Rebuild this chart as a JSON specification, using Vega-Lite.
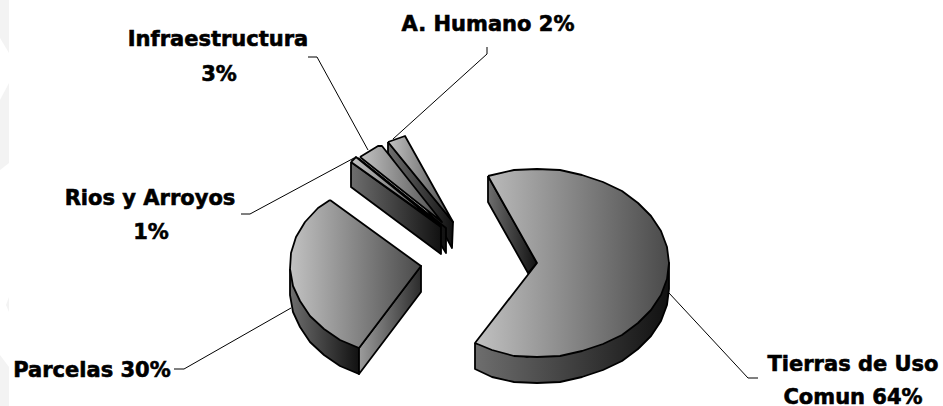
{"$schema":"https://vega.github.io/schema/vega-lite/v6.json","width":943,"height":406,"padding":0,"autosize":"none","background":"white","config":{"view":{"stroke":null}},
"datasets":{
"ghost":[{"s":"g1","i":1,"x":0,"y":0},{"s":"g1","i":2,"x":9,"y":0},{"s":"g1","i":3,"x":9,"y":53},{"s":"g1","i":4,"x":0,"y":38},{"s":"g2","i":1,"x":0,"y":100},{"s":"g2","i":2,"x":9,"y":83},{"s":"g2","i":3,"x":9,"y":163},{"s":"g2","i":4,"x":0,"y":170},{"s":"g3","i":1,"x":9,"y":297},{"s":"g3","i":2,"x":9,"y":312},{"s":"g3","i":3,"x":6,"y":305},{"s":"g4","i":1,"x":0,"y":355},{"s":"g4","i":2,"x":9,"y":367},{"s":"g4","i":3,"x":9,"y":406},{"s":"g4","i":4,"x":0,"y":406}],
"leaders":[{"s":"Infraestructura","i":1,"x":308,"y":57},{"s":"Infraestructura","i":2,"x":317,"y":57},{"s":"Infraestructura","i":3,"x":368,"y":150},{"s":"Humano","i":1,"x":487,"y":47},{"s":"Humano","i":2,"x":487,"y":54},{"s":"Humano","i":3,"x":393,"y":139},{"s":"Rios","i":1,"x":241,"y":214},{"s":"Rios","i":2,"x":250,"y":214},{"s":"Rios","i":3,"x":354,"y":158},{"s":"Parcelas","i":1,"x":174,"y":369},{"s":"Parcelas","i":2,"x":184,"y":369},{"s":"Parcelas","i":3,"x":291,"y":308},{"s":"Tierras","i":1,"x":669,"y":293},{"s":"Tierras","i":2,"x":748,"y":378},{"s":"Tierras","i":3,"x":758,"y":378}],
"sides":[
{"s":"wall","i":1,"x":488,"y":176},{"s":"wall","i":2,"x":488,"y":202},{"s":"wall","i":3,"x":528,"y":273},{"s":"wall","i":4,"x":537,"y":263},{"s":"wall","i":5,"x":488,"y":176},
{"s":"tierras","i":1,"x":475,"y":343},{"s":"tierras","i":2,"x":475,"y":369},{"s":"tierras","i":3,"x":492,"y":377},{"s":"tierras","i":4,"x":514,"y":382},{"s":"tierras","i":5,"x":537,"y":383},{"s":"tierras","i":6,"x":560,"y":382},{"s":"tierras","i":7,"x":582,"y":377},{"s":"tierras","i":8,"x":603,"y":370},{"s":"tierras","i":9,"x":622,"y":361},{"s":"tierras","i":10,"x":638,"y":349},{"s":"tierras","i":11,"x":651,"y":336},{"s":"tierras","i":12,"x":661,"y":321},{"s":"tierras","i":13,"x":667,"y":305},{"s":"tierras","i":14,"x":669,"y":289},{"s":"tierras","i":15,"x":669,"y":263},{"s":"tierras","i":16,"x":610,"y":337},{"s":"tierras","i":17,"x":527,"y":357},{"s":"tierras","i":18,"x":475,"y":343},
{"s":"parcelasOuter","i":1,"x":290,"y":269},{"s":"parcelasOuter","i":2,"x":290,"y":295},{"s":"parcelasOuter","i":3,"x":293,"y":312},{"s":"parcelasOuter","i":4,"x":300,"y":327},{"s":"parcelasOuter","i":5,"x":310,"y":342},{"s":"parcelasOuter","i":6,"x":324,"y":355},{"s":"parcelasOuter","i":7,"x":340,"y":366},{"s":"parcelasOuter","i":8,"x":359,"y":374},{"s":"parcelasOuter","i":9,"x":359,"y":348},{"s":"parcelasOuter","i":10,"x":290,"y":269},
{"s":"humano","i":1,"x":388,"y":142},{"s":"humano","i":2,"x":388,"y":153},{"s":"humano","i":3,"x":446,"y":237},{"s":"humano","i":4,"x":452,"y":248},{"s":"humano","i":5,"x":453,"y":222},{"s":"humano","i":6,"x":388,"y":142},
{"s":"infra","i":1,"x":358,"y":158},{"s":"infra","i":2,"x":358,"y":176},{"s":"infra","i":3,"x":441,"y":245},{"s":"infra","i":4,"x":446,"y":253},{"s":"infra","i":5,"x":446,"y":228},{"s":"infra","i":6,"x":358,"y":158},
{"s":"rios","i":1,"x":351,"y":162},{"s":"rios","i":2,"x":351,"y":187},{"s":"rios","i":3,"x":441,"y":254},{"s":"rios","i":4,"x":441,"y":227},{"s":"rios","i":5,"x":351,"y":162}],
"lightSides":[{"s":"parcelasRight","i":1,"x":359,"y":348},{"s":"parcelasRight","i":2,"x":359,"y":374},{"s":"parcelasRight","i":3,"x":421,"y":292},{"s":"parcelasRight","i":4,"x":421,"y":266},{"s":"parcelasRight","i":5,"x":359,"y":348}],
"tops":[
{"s":"tierras","i":1,"x":488,"y":176},{"s":"tierras","i":2,"x":514,"y":170},{"s":"tierras","i":3,"x":537,"y":169},{"s":"tierras","i":4,"x":560,"y":170},{"s":"tierras","i":5,"x":582,"y":175},{"s":"tierras","i":6,"x":603,"y":182},{"s":"tierras","i":7,"x":622,"y":191},{"s":"tierras","i":8,"x":638,"y":203},{"s":"tierras","i":9,"x":651,"y":216},{"s":"tierras","i":10,"x":661,"y":231},{"s":"tierras","i":11,"x":667,"y":247},{"s":"tierras","i":12,"x":669,"y":263},{"s":"tierras","i":13,"x":667,"y":279},{"s":"tierras","i":14,"x":661,"y":295},{"s":"tierras","i":15,"x":651,"y":310},{"s":"tierras","i":16,"x":638,"y":323},{"s":"tierras","i":17,"x":622,"y":335},{"s":"tierras","i":18,"x":603,"y":344},{"s":"tierras","i":19,"x":582,"y":351},{"s":"tierras","i":20,"x":560,"y":356},{"s":"tierras","i":21,"x":537,"y":357},{"s":"tierras","i":22,"x":514,"y":356},{"s":"tierras","i":23,"x":492,"y":350},{"s":"tierras","i":24,"x":475,"y":343},{"s":"tierras","i":25,"x":537,"y":263},{"s":"tierras","i":26,"x":488,"y":176},
{"s":"parcelas","i":1,"x":330,"y":200},{"s":"parcelas","i":2,"x":421,"y":266},{"s":"parcelas","i":3,"x":359,"y":348},{"s":"parcelas","i":4,"x":340,"y":340},{"s":"parcelas","i":5,"x":324,"y":329},{"s":"parcelas","i":6,"x":310,"y":316},{"s":"parcelas","i":7,"x":300,"y":301},{"s":"parcelas","i":8,"x":293,"y":286},{"s":"parcelas","i":9,"x":290,"y":269},{"s":"parcelas","i":10,"x":291,"y":253},{"s":"parcelas","i":11,"x":296,"y":237},{"s":"parcelas","i":12,"x":305,"y":222},{"s":"parcelas","i":13,"x":318,"y":208},{"s":"parcelas","i":14,"x":330,"y":200},
{"s":"humano","i":1,"x":388,"y":142},{"s":"humano","i":2,"x":405,"y":136},{"s":"humano","i":3,"x":453,"y":222},{"s":"humano","i":4,"x":388,"y":142},
{"s":"infra","i":1,"x":360,"y":157},{"s":"infra","i":2,"x":378,"y":146},{"s":"infra","i":3,"x":382,"y":146},{"s":"infra","i":4,"x":442,"y":222},{"s":"infra","i":5,"x":360,"y":157},
{"s":"rios","i":1,"x":351,"y":162},{"s":"rios","i":2,"x":356,"y":157},{"s":"rios","i":3,"x":441,"y":226},{"s":"rios","i":4,"x":351,"y":162}],
"labels":[{"t":"Infraestructura","x":218,"y":46},{"t":"3%","x":219,"y":81},{"t":"A. Humano 2%","x":488,"y":31},{"t":"Rios y Arroyos","x":150,"y":205},{"t":"1%","x":151,"y":239},{"t":"Parcelas 30%","x":92,"y":377},{"t":"Tierras de Uso","x":853,"y":371},{"t":"Comun 64%","x":853,"y":404}]
},
"encoding":{"x":{"field":"x","type":"quantitative","scale":{"domain":[0,943],"nice":false,"zero":false},"axis":null},"y":{"field":"y","type":"quantitative","scale":{"domain":[406,0],"nice":false,"zero":false},"axis":null}},
"layer":[
{"data":{"name":"ghost"},"mark":{"type":"line","fill":"#f3f3f3","stroke":null},"encoding":{"detail":{"field":"s"},"order":{"field":"i"}}},
{"data":{"name":"leaders"},"mark":{"type":"line","stroke":"#000","strokeWidth":1},"encoding":{"detail":{"field":"s"},"order":{"field":"i"}}},
{"data":{"name":"sides"},"mark":{"type":"line","stroke":"#000","strokeWidth":1.8,"strokeJoin":"round","fill":{"gradient":"linear","x1":0,"x2":1,"y1":0,"y2":0,"stops":[{"offset":0,"color":"#6e6e6e"},{"offset":1,"color":"#111111"}]}},"encoding":{"detail":{"field":"s"},"order":{"field":"i"}}},
{"data":{"name":"lightSides"},"mark":{"type":"line","stroke":"#000","strokeWidth":1.8,"strokeJoin":"round","fill":{"gradient":"linear","x1":0,"x2":1,"y1":0,"y2":0,"stops":[{"offset":0,"color":"#9c9c9c"},{"offset":1,"color":"#2c2c2c"}]}},"encoding":{"detail":{"field":"s"},"order":{"field":"i"}}},
{"data":{"name":"tops"},"mark":{"type":"line","stroke":"#000","strokeWidth":1.8,"strokeJoin":"round","fill":{"gradient":"linear","x1":0,"x2":1,"y1":0,"y2":0,"stops":[{"offset":0,"color":"#c2c2c2"},{"offset":1,"color":"#4a4a4a"}]}},"encoding":{"detail":{"field":"s"},"order":{"field":"i"}}},
{"data":{"name":"labels"},"mark":{"type":"text","font":"DejaVu Sans","fontWeight":"bold","fontSize":21,"align":"center","baseline":"alphabetic","color":"#000","stroke":"#000","strokeWidth":0.6},"encoding":{"text":{"field":"t"}}}
]}
